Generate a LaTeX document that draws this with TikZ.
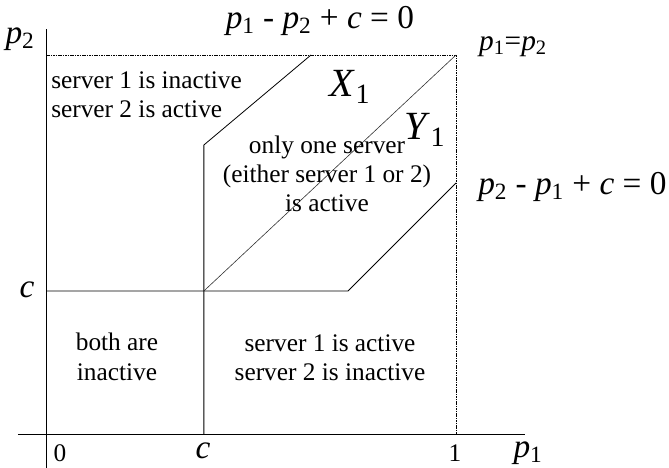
\documentclass[tikz,border=0pt]{standalone}
\usepackage{fontspec}
\setmainfont{Liberation Serif}
\usetikzlibrary{positioning}
\newcommand{\pv}[1]{\textit{p}\textsubscript{#1}}
\tikzset{
    axis/.style={draw=black, line width=0.6pt},
    guide/.style={draw=black, line width=0.5pt, dash pattern=on 1.2pt off 0.6pt},
    bound/.style={draw=black, line width=0.6pt},
    diag/.style={draw=black!80, line width=0.45pt},
    region/.style={font=\fontsize{19}{22}\selectfont, align=center, inner sep=0pt},
    lbl/.style={font=\fontsize{25}{27}\selectfont, inner sep=0pt},
    big/.style={font=\fontsize{30}{32}\selectfont, inner sep=0pt}
}

\begin{document}
\begin{tikzpicture}[x=307.5pt, y=284.25pt]
    \useasboundingbox (-0.1122,-0.0897) rectangle (1.5195,1.1451);

    % axes and box
    \coordinate (yb) at (0,-0.0897);
    \coordinate (yt) at (0,1.0686);
    \coordinate (xl) at (-0.0683,0);
    \coordinate (xr) at (1.1683,0);
    \coordinate (tl) at (0,1);
    \coordinate (tr) at (1,1);
    \coordinate (br) at (1,0);

    % break points of the regions
    \coordinate (cl) at (0,0.3773);
    \coordinate (cc) at (0.385,0.3773);
    \coordinate (cb) at (0.385,0);
    \coordinate (up1) at (0.385,0.7625);
    \coordinate (up2) at (0.6463,1);
    \coordinate (lo1) at (0.7366,0.3773);
    \coordinate (lo2) at (1,0.6623);

    \draw [axis] (xl) -- (xr);
    \draw [axis] (yb) -- (yt);
    \draw [guide] (tl) -- (tr) -- (br);
    \draw [bound] (cl) -- (cc) -- (lo1) -- (lo2);
    \draw [bound] (cb) -- (up1) -- (up2);
    \draw [diag] (cc) -- (tr);

    % axis labels
    \node (p2ax) [lbl] at (-0.0634,1.0422) {\pv{2}};
    \node (p1ax) [lbl] at (1.1756,-0.0501) {\pv{1}};
    \node (cy) [lbl] at (-0.0463,0.38) {\textit{c}};
    \node (zero) [region] at (0.0341,-0.0501) {0};
    \node (cx) [lbl] at (0.3829,-0.0449) {\textit{c}};
    \node (one) [region] at (0.9976,-0.0501) {1};

    % boundary labels
    \node (eqa) [lbl] at (0.668,1.09) {\pv{1} - \pv{2} + \textit{c} = 0};
    \node (eqd) [lbl, font=\fontsize{22}{24}\selectfont] at (1.139,1.0211) {\pv{1}=\pv{2}};
    \node (eqb) [lbl, anchor=west] at (1.0537,0.6517) {\pv{2} - \pv{1} + \textit{c} = 0};
    \node (xone) [big] at (0.7415,0.9156) {\textit{X}\textsubscript{1}};
    \node (yone) [big] at (0.9244,0.8021) {\textit{Y}\textsubscript{1}};

    % regions
    \node (upleft) [region, align=left, anchor=west] at (0.0122,0.8945) {server 1 is inactive\\server 2 is active};
    \node (middle) [region] at (0.6854,0.686) {only one server\\(either server 1 or 2)\\is active};
    \node (lowleft) [region] at (0.1732,0.2032) {both are\\inactive};
    \node (lowright) [region] at (0.6927,0.2005) {server 1 is active\\server 2 is inactive};
\end{tikzpicture}
\end{document}
